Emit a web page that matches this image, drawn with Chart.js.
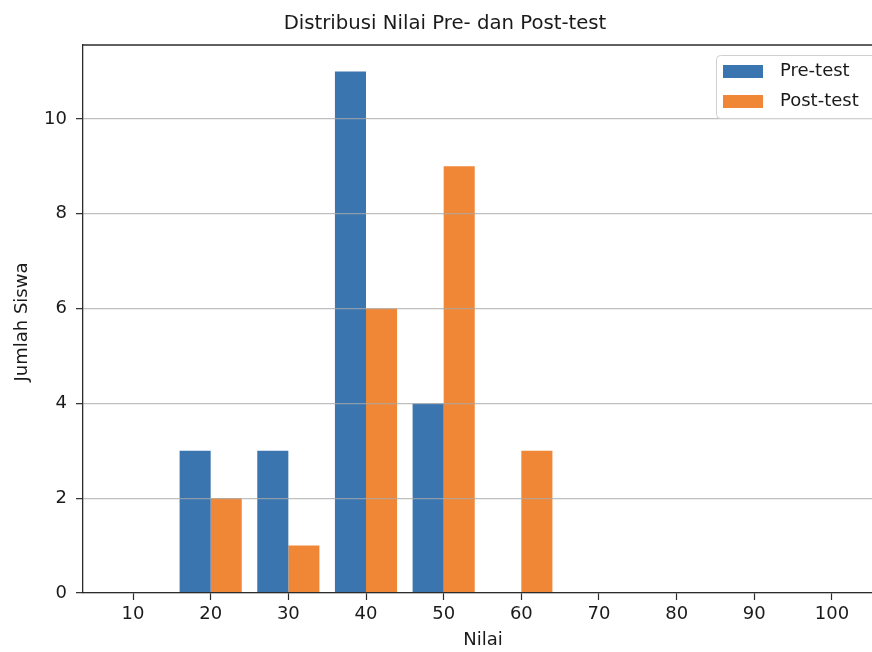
<!DOCTYPE html>
<html><head><meta charset="utf-8">
<script src="https://cdn.jsdelivr.net/npm/chart.js@4.4.1/dist/chart.umd.min.js"></script>
<style>html,body{margin:0;padding:0;background:#fff;overflow:hidden;width:872px;height:652px}
#wrap{position:relative;width:900px;height:652px}</style></head>
<body><div id="wrap"><canvas id="c" width="900" height="652"></canvas></div>
<script>
const categories = [20, 30, 40, 50, 60];
const preTest = [3, 3, 11, 4, 0];
const postTest = [2, 1, 6, 9, 3];
const xTicks = [10, 20, 30, 40, 50, 60, 70, 80, 90, 100];
const yTicks = [0, 2, 4, 6, 8, 10];
const titleText = 'Distribusi Nilai Pre- dan Post-test';
const xLabel = 'Nilai';
const yLabel = 'Jumlah Siswa';
const seriesLabels = ['Pre-test', 'Post-test'];
const seriesColors = ['#3a75af', '#ef8737'];

const FONT = "'DejaVu Sans', sans-serif";
const TXT = '#1a1a1a';

const decor = {
  id: 'decor',
  afterDatasetsDraw(chart) {
    const {ctx, chartArea: a} = chart;
    ctx.save();
    ctx.strokeStyle = '#2b2b2b'; ctx.lineWidth = 1.3;
    ctx.beginPath(); ctx.moveTo(a.left, a.top); ctx.lineTo(a.right, a.top); ctx.stroke();
    ctx.restore();
  },
  afterDraw(chart) {
    const {ctx} = chart;
    ctx.save();
    // legend
    const bx = 716, by = 55, bw = 160, bh = 63, r = 4;
    ctx.fillStyle = 'rgba(255,255,255,0.85)';
    ctx.strokeStyle = '#d0d0d0'; ctx.lineWidth = 1;
    ctx.beginPath();
    ctx.roundRect(bx + 0.5, by + 0.5, bw, bh, r);
    ctx.fill(); ctx.stroke();
    ctx.font = '18px ' + FONT; ctx.textBaseline = 'middle'; ctx.textAlign = 'left';
    seriesLabels.forEach((lab, i) => {
      const cy = 71.5 + i * 30;
      ctx.fillStyle = seriesColors[i];
      ctx.fillRect(723, cy - 6.5, 40, 13);
      ctx.fillStyle = TXT;
      ctx.fillText(lab, 780, cy);
    });
    // titles
    ctx.fillStyle = TXT;
    ctx.font = '19.7px ' + FONT; ctx.textAlign = 'center'; ctx.textBaseline = 'middle';
    ctx.fillText(titleText, 445, 24);
    ctx.font = '18px ' + FONT;
    ctx.fillText(xLabel, 483, 640);
    ctx.translate(22, 322); ctx.rotate(-Math.PI / 2);
    ctx.fillText(yLabel, 0, 0);
    ctx.restore();
  }
};

new Chart(document.getElementById('c'), {
  type: 'bar',
  data: {
    datasets: [
      { label: seriesLabels[0], data: categories.map((c, i) => ({x: c, y: preTest[i]})),
        backgroundColor: seriesColors[0], borderWidth: 0,
        categoryPercentage: 0.8, barPercentage: 1.0 },
      { label: seriesLabels[1], data: categories.map((c, i) => ({x: c, y: postTest[i]})),
        backgroundColor: seriesColors[1], borderWidth: 0,
        categoryPercentage: 0.8, barPercentage: 1.0 }
    ]
  },
  options: {
    responsive: false, animation: false,
    layout: { padding: { left: 0, top: 45, right: 18, bottom: 0 } },
    plugins: { legend: { display: false }, title: { display: false }, tooltip: { enabled: false } },
    scales: {
      x: {
        type: 'linear', min: 3.56, max: 106.44, offset: false,
        afterBuildTicks: (s) => { s.ticks = xTicks.map(v => ({value: v})); },
        afterFit: (s) => { s.height = 59; },
        grid: { offset: false, drawOnChartArea: false, drawTicks: true, tickLength: 7, tickColor: '#2b2b2b', tickWidth: 1.2 },
        border: { display: true, color: '#2b2b2b', width: 1.3, z: 2 },
        ticks: { font: { family: FONT, size: 18 }, color: TXT, padding: 4, maxRotation: 0, autoSkip: false }
      },
      y: {
        min: 0, max: 11.56,
        afterBuildTicks: (s) => { s.ticks = yTicks.map(v => ({value: v})); },
        afterFit: (s) => { s.width = 83; },
        grid: { z: 1, color: 'rgba(170,170,170,0.75)', lineWidth: 1.3, drawTicks: true, tickLength: 7, tickColor: '#2b2b2b', tickWidth: 1.2 },
        border: { display: true, color: '#2b2b2b', width: 1.3, z: 2 },
        ticks: { font: { family: FONT, size: 18 }, color: TXT, padding: 9 }
      }
    }
  },
  plugins: [decor]
});
</script>
</body></html>
